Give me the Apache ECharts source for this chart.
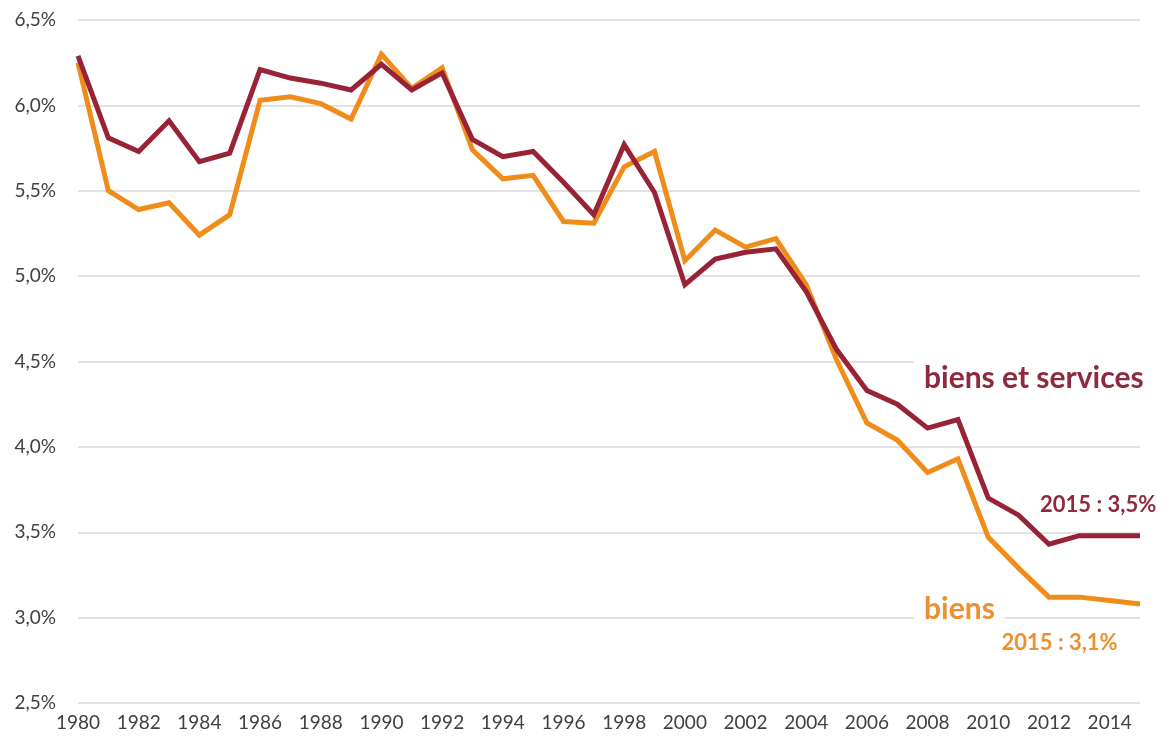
<!DOCTYPE html>
<html>
<head>
<meta charset="utf-8">
<script src="https://cdn.jsdelivr.net/npm/echarts@6/dist/echarts.min.js"></script>
<style>
html,body{margin:0;padding:0;background:#fff;}
#c{width:1171px;height:738px;}
</style>
</head>
<body>
<div id="c"></div>
<script>
const years = [1980,1981,1982,1983,1984,1985,1986,1987,1988,1989,1990,1991,1992,1993,1994,1995,1996,1997,1998,1999,2000,2001,2002,2003,2004,2005,2006,2007,2008,2009,2010,2011,2012,2013,2014,2015];
const biensEtServices = [6.29,5.81,5.73,5.91,5.67,5.72,6.21,6.16,6.13,6.09,6.24,6.09,6.19,5.80,5.70,5.73,5.55,5.36,5.77,5.49,4.95,5.10,5.14,5.16,4.91,4.57,4.33,4.25,4.11,4.16,3.70,3.60,3.43,3.48,3.48,3.48];
const biens = [6.25,5.50,5.39,5.43,5.24,5.36,6.03,6.05,6.01,5.92,6.30,6.10,6.22,5.74,5.57,5.59,5.32,5.31,5.64,5.73,5.09,5.27,5.17,5.22,4.95,4.51,4.14,4.04,3.85,3.93,3.47,3.29,3.12,3.12,3.10,3.08];
const yTicks = {min:2.5, max:6.5, step:0.5};
const xTicks = {min:1980, max:2015, step:2};
const labelBES = {text:'biens et services', at:[2011.5, 4.40]};
const labelBES2015 = {text:'2015 : 3,5%', at:[2013.62, 3.66]};
const labelB = {text:'biens', at:[2009.05, 3.05]};
const labelB2015 = {text:'2015 : 3,1%', at:[2012.35, 2.85]};

const C_BES = '#982336';
const C_BES_TXT = '#8f2a3e';
const C_B = '#f08c1a';
const C_B_TXT = '#ec9030';
const FONT = 'Lato';

function mp(lbl, color, size, bg){
  return {
    coord: lbl.at,
    symbol: 'rect',
    symbolSize: 1,
    itemStyle: {color: 'rgba(0,0,0,0)'},
    label: {
      show: true, position: 'inside', formatter: lbl.text,
      color: color, fontFamily: FONT, fontWeight: 'bold', fontSize: size,
      backgroundColor: bg ? '#fff' : 'transparent', padding: bg ? [4,10,4,10] : 0
    }
  };
}

const chart = echarts.init(document.getElementById('c'), null, {renderer:'canvas'});
chart.setOption({
  animation: false,
  backgroundColor: '#fff',
  grid: {left: 78, right: 31, top: 20, bottom: 35, containLabel: false},
  xAxis: {
    type: 'value', min: xTicks.min, max: xTicks.max, interval: xTicks.step,
    axisLine: {show: false}, axisTick: {show: false}, splitLine: {show: false},
    axisLabel: {color: '#404040', fontFamily: FONT, fontSize: 19, margin: 10,
      formatter: v => String(v), showMaxLabel: false}
  },
  yAxis: {
    type: 'value', min: yTicks.min, max: yTicks.max, interval: yTicks.step,
    axisLine: {show: false}, axisTick: {show: false},
    splitLine: {lineStyle: {color: '#d9d9d9', width: 1.5}},
    axisLabel: {color: '#404040', fontFamily: FONT, fontSize: 19, margin: 22,
      formatter: v => v.toFixed(1).replace('.', ',') + '%'}
  },
  series: [
    {
      name: 'biens', type: 'line', showSymbol: false, symbol: 'none',
      data: years.map((y, i) => [y, biens[i]]),
      lineStyle: {color: C_B, width: 5, join: 'miter'},
      itemStyle: {color: C_B},
      z: 2,
      markPoint: {silent: true, data: [mp(labelB, C_B_TXT, 30, true), mp(labelB2015, C_B_TXT, 22, false)]}
    },
    {
      name: 'biens et services', type: 'line', showSymbol: false, symbol: 'none',
      data: years.map((y, i) => [y, biensEtServices[i]]),
      lineStyle: {color: C_BES, width: 5, join: 'miter'},
      itemStyle: {color: C_BES},
      z: 3,
      markPoint: {silent: true, data: [mp(labelBES, C_BES_TXT, 30, true), mp(labelBES2015, C_BES_TXT, 22, false)]}
    }
  ]
});
</script>
</body>
</html>
